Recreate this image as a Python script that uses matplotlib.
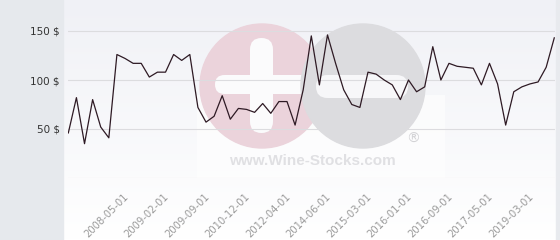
import matplotlib
matplotlib.use('Agg')
import matplotlib.pyplot as plt
import numpy as np
from matplotlib.patches import Rectangle, Circle, FancyBboxPatch
from matplotlib.transforms import ScaledTranslation

# ---- data ----
prices = [46, 82, 35, 80, 52, 41, 126, 122, 117, 117, 103, 108, 108, 126, 120, 126,
          72, 57, 63, 84, 60, 71, 70, 67, 76, 66, 78, 78, 54, 90, 145,
          95, 146, 117, 90, 75, 72, 108, 106, 100, 95, 80, 100, 88, 93, 134,
          100, 117, 114, 113, 112, 95, 117, 96, 54, 88, 93, 96, 98, 113, 143]
tick_labels = ['2008-05-01', '2009-02-01', '2009-09-01', '2010-12-01', '2012-04-01',
               '2014-06-01', '2015-03-01', '2016-01-01', '2016-09-01', '2017-05-01',
               '2019-03-01']
tick_first, tick_step = 7, 5
y_ticks = [0, 50, 100, 150]
y_tick_labels = ['', '50 $', '100 $', '150 $']

W, H = 560, 240
fig = plt.figure(figsize=(W / 100, H / 100), dpi=100)
fig.patch.set_facecolor('white')

# ---- background & watermark (pixel coordinates) ----
bg = fig.add_axes([0, 0, 1, 1])
bg.set_xlim(0, W)
bg.set_ylim(H, 0)
bg.axis('off')
g = np.linspace(0, 1, 240).reshape(-1, 1, 1)
top = np.array([240, 241, 246]) / 255
bot = np.array([255, 255, 255]) / 255
img = top * (1 - g) + bot * g
bg.imshow(img, extent=[63, 556, 240, 0], aspect='auto', zorder=0)
bg.add_patch(Rectangle((0, 0), 63, 240, color='#e6e9ed', zorder=1))
bg.add_patch(Rectangle((556, 0), 4, 240, color='#e8eaee', zorder=1))
bg.add_patch(Rectangle((197, 95), 248, 83, fc='white', ec='none', alpha=0.6, zorder=1))
bg.add_patch(Circle((262, 86), 62, color='#ebd3db', zorder=2))
bg.add_patch(FancyBboxPatch((250, 38), 23, 95, boxstyle='round,pad=0,rounding_size=11.5',
                            fc='#fbfbfc', ec='none', zorder=3))
bg.add_patch(FancyBboxPatch((215, 75), 100, 19, boxstyle='round,pad=0,rounding_size=9.5',
                            fc='#fbfbfc', ec='none', zorder=3))
bg.add_patch(Circle((363, 86), 62, color='#dcdcdf', zorder=4))
bg.add_patch(FancyBboxPatch((316, 75), 92, 23, boxstyle='round,pad=0,rounding_size=11.5',
                            fc='#f7f7f9', ec='none', zorder=5))
bg.text(413, 139, '®', fontsize=10, color='#d3d3d6', ha='center', va='center', zorder=5)
bg.text(312, 161, 'www.Wine-Stocks.com', family='Liberation Sans', weight='bold',
        fontsize=11, color='#e0e0e3', ha='center', va='center', zorder=5)

# ---- main chart ----
ax = fig.add_axes([68 / W, (H - 178) / H, (555 - 68) / W, 178 / H])
ax.patch.set_alpha(0)
x = np.arange(len(prices))
ax.plot(x, prices, color='#2e1a24', lw=0.9, zorder=3)
ax.set_xlim(-0.04, len(prices) - 1 + 0.09)
ax.set_ylim(0, 178 / 0.98)
for s in ax.spines.values():
    s.set_visible(False)
ax.set_yticks(y_ticks, y_tick_labels)
ax.yaxis.grid(True, color='#dcdcdf', lw=0.8)
ax.set_axisbelow(True)
ax.tick_params(axis='y', length=0, pad=6.1, labelsize=7.5, labelcolor='#333333')
tick_pos = [tick_first + tick_step * i for i in range(len(tick_labels))]
ax.set_xticks(tick_pos, tick_labels)
ax.tick_params(axis='x', length=0, pad=13.7, labelsize=7.2, labelcolor='#9a9a9a')
off = ScaledTranslation(0.04, 0, fig.dpi_scale_trans)
for lbl in ax.get_xticklabels():
    lbl.set_rotation(45)
    lbl.set_ha('right')
    lbl.set_va('baseline')
    lbl.set_rotation_mode('anchor')
    lbl.set_transform(lbl.get_transform() + off)

fig.savefig('out.png', dpi=100, facecolor=fig.get_facecolor())
